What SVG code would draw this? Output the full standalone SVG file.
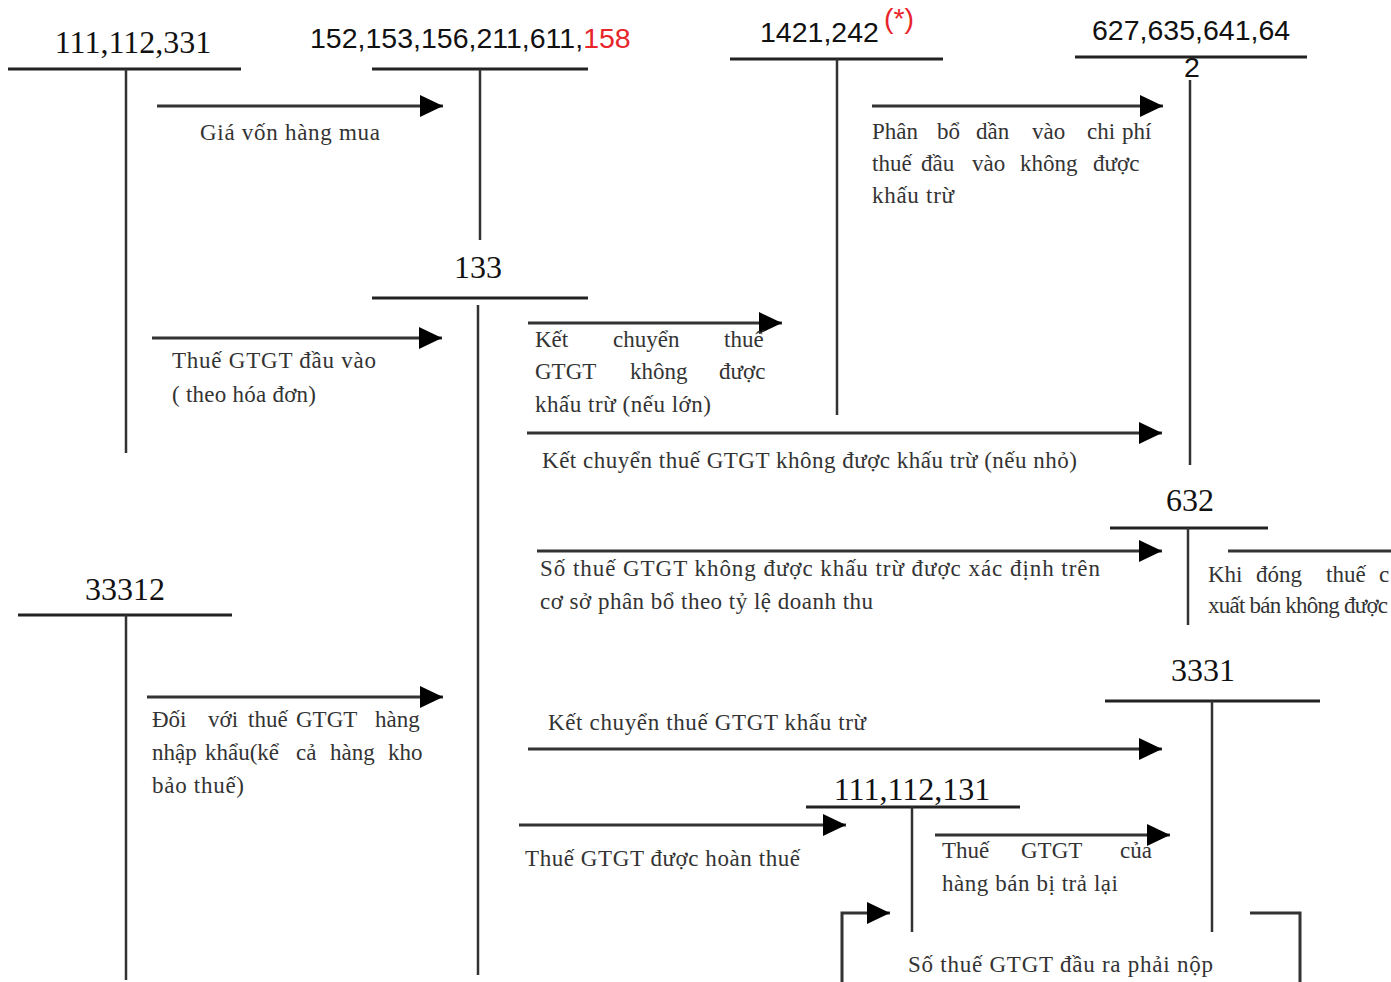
<svg xmlns="http://www.w3.org/2000/svg" width="1391" height="982" viewBox="0 0 1391 982">
<style>
.acct{stroke:#222;stroke-width:3;fill:none}
.vline{stroke:#333;stroke-width:2.5;fill:none}
.conn{stroke:#333;stroke-width:3;fill:none}
.ts{font-family:"Liberation Serif",serif;font-size:32px;fill:#111}
.tn{font-family:"Liberation Sans",sans-serif;font-size:28.5px;fill:#111}
.lbl{font-family:"Liberation Serif",serif;font-size:23px;fill:#333}
.red{fill:#e8252a}
</style>
<defs>
<marker id="ah" markerUnits="userSpaceOnUse" markerWidth="24" markerHeight="24" refX="23" refY="11" orient="auto">
<path d="M0,0 L23,11 L0,22 z" fill="#000"/>
</marker>
</defs>
<rect width="1391" height="982" fill="#fff"/>

<g id="acc-111-112-331">
<text class="ts" x="133" y="53" text-anchor="middle">111,112,331</text>
<line class="acct" x1="8" y1="69" x2="241" y2="69"/>
<line class="vline" x1="126" y1="69" x2="126" y2="453"/>
</g>
<g id="acc-152">
<text class="tn" x="310" y="48">152,153,156,211,611,<tspan class="red">158</tspan></text>
<line class="acct" x1="372" y1="69" x2="588" y2="69"/>
<line class="vline" x1="480" y1="69" x2="480" y2="240"/>
</g>
<g id="acc-133">
<text class="ts" x="478" y="278" text-anchor="middle">133</text>
<line class="acct" x1="372" y1="298" x2="588" y2="298"/>
<line class="vline" x1="478" y1="305" x2="478" y2="975"/>
</g>
<g id="acc-1421">
<text class="tn" x="760" y="42">1421,242</text>
<text class="tn red" x="884" y="28" font-size="20">(*)</text>
<line class="acct" x1="730" y1="59" x2="943" y2="59"/>
<line class="vline" x1="837" y1="59" x2="837" y2="415"/>
</g>
<g id="acc-627">
<text class="tn" x="1092" y="40">627,635,641,64</text>
<text class="tn" x="1192" y="77" font-size="18" text-anchor="middle" fill="#444">2</text>
<line class="acct" x1="1075" y1="57" x2="1307" y2="57"/>
<line class="vline" x1="1190" y1="80" x2="1190" y2="465"/>
</g>
<g id="acc-632">
<text class="ts" x="1190" y="511" text-anchor="middle" fill="#444">632</text>
<line class="acct" x1="1110" y1="528" x2="1268" y2="528"/>
<line class="vline" x1="1188" y1="528" x2="1188" y2="625"/>
</g>
<g id="acc-33312">
<text class="ts" x="125" y="600" text-anchor="middle" fill="#555">33312</text>
<line class="acct" x1="18" y1="615" x2="232" y2="615"/>
<line class="vline" x1="126" y1="615" x2="126" y2="980"/>
</g>
<g id="acc-3331">
<text class="ts" x="1203" y="681" text-anchor="middle" fill="#333">3331</text>
<line class="acct" x1="1105" y1="701" x2="1320" y2="701"/>
<line class="vline" x1="1212" y1="701" x2="1212" y2="932"/>
</g>
<g id="acc-111-112-131">
<text class="ts" x="912" y="800" text-anchor="middle">111,112,131</text>
<line class="acct" x1="806" y1="807" x2="1020" y2="807"/>
<line class="vline" x1="912" y1="807" x2="912" y2="932"/>
</g>

<g id="connectors">
<line class="conn" x1="157" y1="106" x2="443" y2="106" marker-end="url(#ah)"/>
<line class="conn" x1="872" y1="106" x2="1163" y2="106" marker-end="url(#ah)"/>
<line class="conn" x1="152" y1="338" x2="442" y2="338" marker-end="url(#ah)"/>
<line class="conn" x1="528" y1="323" x2="782" y2="323" marker-end="url(#ah)"/>
<line class="conn" x1="527" y1="433" x2="1162" y2="433" marker-end="url(#ah)"/>
<line class="conn" x1="537" y1="551" x2="1162" y2="551" marker-end="url(#ah)"/>
<line class="conn" x1="1228" y1="551" x2="1391" y2="551"/>
<line class="conn" x1="147" y1="697" x2="443" y2="697" marker-end="url(#ah)"/>
<line class="conn" x1="528" y1="749" x2="1162" y2="749" marker-end="url(#ah)"/>
<line class="conn" x1="519" y1="825" x2="846" y2="825" marker-end="url(#ah)"/>
<line class="conn" x1="935" y1="835" x2="1170" y2="835" marker-end="url(#ah)"/>
<polyline class="conn" points="842,982 842,913 890,913" marker-end="url(#ah)"/>
<polyline class="conn" points="1250,913 1300,913 1300,982"/>
</g>

<g id="labels">
<text class="lbl" x="200" y="140" textLength="180">Giá vốn hàng mua</text>
<text class="lbl" y="139"><tspan x="872">Phân</tspan><tspan x="937">bổ</tspan><tspan x="976">dần</tspan><tspan x="1032">vào</tspan><tspan x="1087">chi</tspan><tspan x="1122">phí</tspan></text>
<text class="lbl" y="171"><tspan x="872">thuế</tspan><tspan x="921">đầu</tspan><tspan x="972">vào</tspan><tspan x="1020">không</tspan><tspan x="1093">được</tspan></text>
<text class="lbl" x="872" y="203" textLength="82">khấu trừ</text>
<text class="lbl" x="172" y="368" textLength="204">Thuế GTGT đầu vào</text>
<text class="lbl" x="172" y="402" textLength="144">( theo hóa đơn)</text>
<text class="lbl" y="347"><tspan x="535">Kết</tspan><tspan x="613">chuyển</tspan><tspan x="724">thuế</tspan></text>
<text class="lbl" y="379"><tspan x="535">GTGT</tspan><tspan x="630">không</tspan><tspan x="719">được</tspan></text>
<text class="lbl" x="535" y="412" textLength="176">khấu trừ (nếu lớn)</text>
<text class="lbl" x="542" y="468" textLength="535">Kết chuyển thuế GTGT không được khấu trừ (nếu nhỏ)</text>
<text class="lbl" x="540" y="576" textLength="560">Số thuế GTGT không được khấu trừ được xác định trên</text>
<text class="lbl" x="540" y="609" textLength="333">cơ sở phân bổ theo tỷ lệ doanh thu</text>
<text class="lbl" y="582"><tspan x="1208">Khi</tspan><tspan x="1256">đóng</tspan><tspan x="1326">thuế</tspan><tspan x="1379">c</tspan></text>
<text class="lbl" x="1208" y="613" textLength="180">xuất bán không được</text>
<text class="lbl" y="727"><tspan x="152">Đối</tspan><tspan x="208">với</tspan><tspan x="248">thuế</tspan><tspan x="296">GTGT</tspan><tspan x="375">hàng</tspan></text>
<text class="lbl" y="760"><tspan x="152">nhập</tspan><tspan x="205">khẩu(kể</tspan><tspan x="296">cả</tspan><tspan x="330">hàng</tspan><tspan x="388">kho</tspan></text>
<text class="lbl" x="152" y="793" textLength="92">bảo thuế)</text>
<text class="lbl" x="548" y="730" textLength="318">Kết chuyển thuế GTGT khấu trừ</text>
<text class="lbl" x="525" y="866" textLength="275">Thuế GTGT được hoàn thuế</text>
<text class="lbl" y="858"><tspan x="942">Thuế</tspan><tspan x="1021">GTGT</tspan><tspan x="1120">của</tspan></text>
<text class="lbl" x="942" y="891" textLength="176">hàng bán bị trả lại</text>
<text class="lbl" x="908" y="972" font-size="25" fill="#111" textLength="305">Số thuế GTGT đầu ra phải nộp</text>
</g>
</svg>
